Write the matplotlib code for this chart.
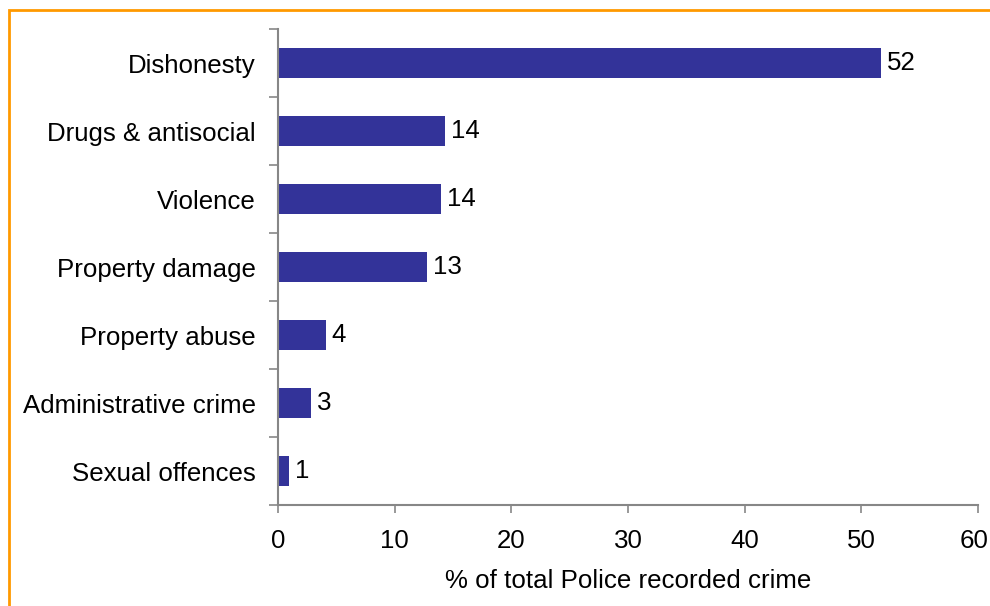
import matplotlib
matplotlib.use("Agg")
import matplotlib.pyplot as plt
from matplotlib.patches import Rectangle
from matplotlib.transforms import ScaledTranslation
import numpy as np

# Share of total police recorded crime by offence group (%)
categories = [
    "Dishonesty",
    "Drugs & antisocial",
    "Violence",
    "Property damage",
    "Property abuse",
    "Administrative crime",
    "Sexual offences",
]
shares = [51.7, 14.35, 14.0, 12.8, 4.1, 2.85, 0.95]
x_ticks = [0, 10, 20, 30, 40, 50, 60]
x_label = "% of total Police recorded crime"

plt.rcParams["font.family"] = ["Liberation Sans", "DejaVu Sans"]
FS = 18.6
BAR = "#333399"
AXIS = "#878787"
FRAME = "#FF9900"

fig = plt.figure(figsize=(9.9, 6.06), dpi=100)
ax = fig.add_axes([278 / 990, 1 - 505 / 606, 700 / 990, 476 / 606])

n = len(categories)
ypos = np.arange(n)
ax.barh(ypos, shares, height=0.44, color=BAR, edgecolor="none")
ax.set_ylim(n - 0.5, -0.5)
ax.set_xlim(x_ticks[0], x_ticks[-1])

for y, v in zip(ypos, shares):
    ax.annotate(f"{v:.0f}", (v, y), xytext=(4, 0), textcoords="offset points",
                va="center", ha="left", fontsize=FS, color="black")

# category labels centred on bars, tick marks on the category boundaries
ax.set_yticks(ypos)
ax.set_yticklabels(categories, fontsize=FS)
ax.tick_params(axis="y", which="major", length=0, pad=16)
ax.set_yticks(np.arange(n + 1) - 0.5, minor=True)
ax.tick_params(axis="y", which="minor", length=6.5, width=1.2, color=AXIS, direction="out")

ax.set_xticks(x_ticks)
ax.set_xticklabels([str(t) for t in x_ticks], fontsize=FS)
ax.tick_params(axis="x", length=6, width=1.2, color=AXIS, direction="out", pad=11)
ax.set_xlabel(x_label, fontsize=FS, labelpad=12)

# keep the last tick label inside the figure
last = ax.get_xticklabels()[-1]
last.set_transform(last.get_transform() + ScaledTranslation(-4 / 100, 0, fig.dpi_scale_trans))

for side in ("top", "right"):
    ax.spines[side].set_visible(False)
for side in ("left", "bottom"):
    ax.spines[side].set_color(AXIS)
    ax.spines[side].set_linewidth(1.5)

# outer frame running off the right and bottom edges
fig.patches.append(Rectangle((9 / 990, -0.1), 1.2, 1 - 10 / 606 + 0.1,
                             transform=fig.transFigure, fill=False,
                             edgecolor=FRAME, linewidth=2))

fig.savefig("out.png", dpi=100)
